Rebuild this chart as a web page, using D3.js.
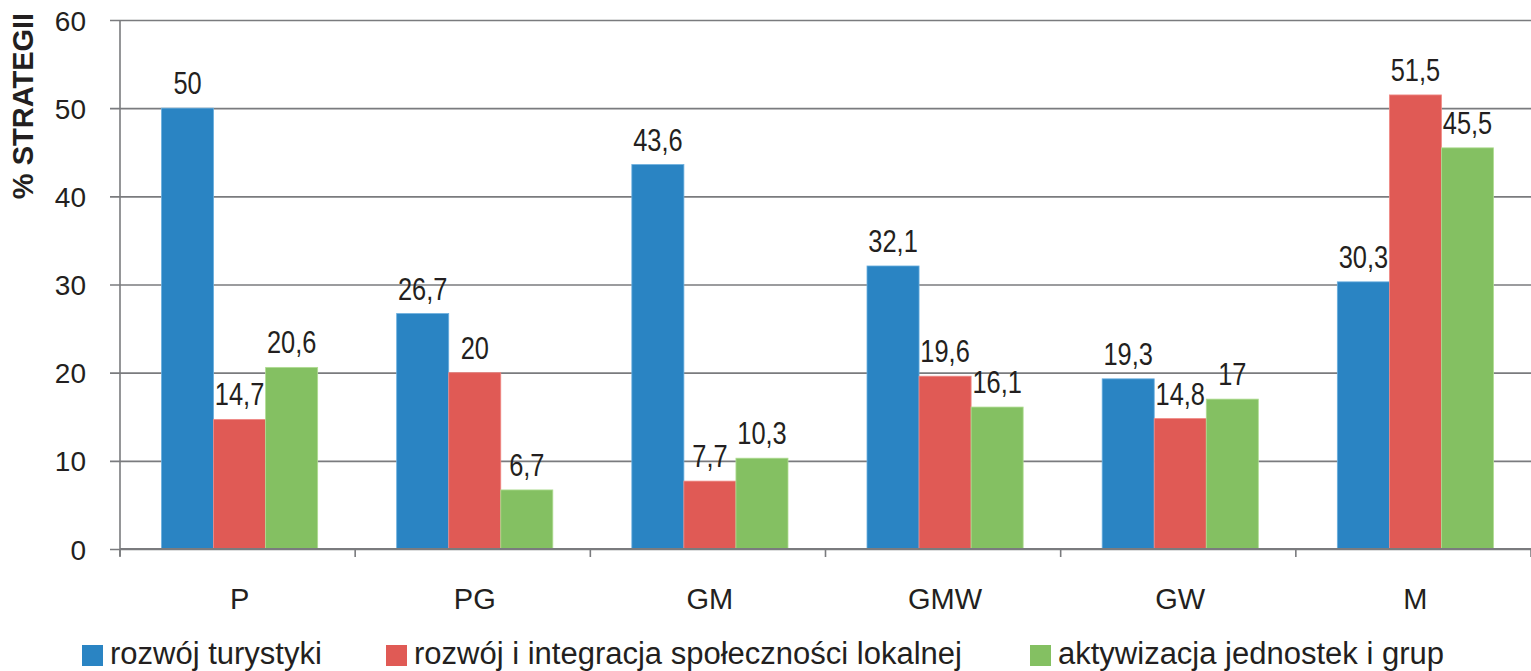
<!DOCTYPE html>
<html>
<head>
<meta charset="utf-8">
<script src="https://cdn.jsdelivr.net/npm/d3@7"></script>
<style>
  html, body { margin: 0; padding: 0; background: white; }
  #container { width: 1531px; height: 671px; }
</style>
</head>
<body>
<div id="container"></div>
<script>
// data
let categories = ["P", "PG", "GM", "GMW", "GW", "M"]
let seriesNames = ["rozwój turystyki", "rozwój i integracja społeczności lokalnej", "aktywizacja jednostek i grup"]
let tourism = [50, 26.7, 43.6, 32.1, 19.3, 30.3]
let community = [14.7, 20, 7.7, 19.6, 14.8, 51.5]
let activation = [20.6, 6.7, 10.3, 16.1, 17, 45.5]
let yTicks = [0, 10, 20, 30, 40, 50, 60]
let yTitle = "% STRATEGII"

let colors = ["#2a84c3", "#e05a55", "#84c062"]
let edgeColors = ["#6aaede", "#f08a86", "#b0dc92"]
let textColor = "#231f20"
let gridColor = "#7a7b7e"

let width = 1531, height = 671
let plotLeft = 120, plotRight = 1531, plotTop = 20, plotBottom = 549

let viz = d3.select("#container").append("svg")
    .attr("width", width)
    .attr("height", height)
    .style("background-color", "white")

let x0 = d3.scaleBand()
    .domain(categories)
    .range([plotLeft + 2, plotRight + 2])
    .paddingInner(0.336)
    .paddingOuter(0.168)

let x1 = d3.scaleBand()
    .domain([0, 1, 2])
    .range([0, x0.bandwidth()])

let y = d3.scaleLinear()
    .domain([0, 60])
    .range([plotBottom, plotTop])

// gridlines + y axis
let yAxis = viz.append("g")
    .attr("transform", "translate(" + plotLeft + ",0)")
    .call(d3.axisLeft(y).tickValues(yTicks).tickSize(10).tickSizeOuter(0).tickFormat(d => d))
yAxis.select(".domain").remove()
yAxis.selectAll(".tick line")
    .attr("x2", plotRight - plotLeft)
    .attr("x1", -10)
    .attr("stroke", gridColor)
    .attr("stroke-width", 1.6)
yAxis.selectAll(".tick text")
    .attr("x", -34)
    .attr("dy", "0.36em")
    .attr("fill", textColor)
    .style("font-family", "'Liberation Sans', Arial, sans-serif")
    .style("font-size", "28px")

viz.append("line")
    .attr("x1", plotLeft).attr("x2", plotLeft)
    .attr("y1", plotTop).attr("y2", plotBottom + 7)
    .attr("stroke", gridColor)
    .attr("stroke-width", 1.6)

// bars
let seriesData = [tourism, community, activation]
let rows = []
categories.forEach(function(c, i){
    seriesData.forEach(function(s, j){
        rows.push({cat: c, s: j, v: s[i]})
    })
})

let bars = viz.append("g").selectAll("rect").data(rows).enter()
bars.append("rect")
    .attr("x", d => x0(d.cat) + x1(d.s))
    .attr("y", d => y(d.v))
    .attr("width", x1.bandwidth())
    .attr("height", d => y(0) - y(d.v))
    .attr("fill", d => colors[d.s])
    .attr("stroke", d => edgeColors[d.s])
    .attr("stroke-width", 0.8)

// value labels (narrow look: squeeze a regular sans)
viz.append("g").selectAll("text").data(rows).enter()
    .append("text")
    .attr("transform", d => "translate(" + (x0(d.cat) + x1(d.s) + x1.bandwidth() / 2) + "," + (y(d.v) - 14) + ") scale(0.82,1)")
    .attr("text-anchor", "middle")
    .attr("fill", textColor)
    .style("font-family", "'Liberation Sans', Arial, sans-serif")
    .style("font-size", "31px")
    .text(d => String(d.v).replace(".", ","))

// x axis
let xAxis = viz.append("g")
    .attr("transform", "translate(0," + plotBottom + ")")
xAxis.append("line")
    .attr("x1", plotLeft).attr("x2", plotRight)
    .attr("stroke", gridColor)
    .attr("stroke-width", 1.8)
let step = (plotRight - plotLeft) / categories.length
d3.range(categories.length + 1).forEach(function(i){
    xAxis.append("line")
        .attr("x1", plotLeft + i * step).attr("x2", plotLeft + i * step)
        .attr("y1", 0).attr("y2", 8)
        .attr("stroke", gridColor)
        .attr("stroke-width", 1.6)
})
xAxis.selectAll("text.cat").data(categories).enter()
    .append("text")
    .attr("class", "cat")
    .attr("x", d => x0(d) + x0.bandwidth() / 2)
    .attr("y", 60)
    .attr("text-anchor", "middle")
    .attr("fill", textColor)
    .style("font-family", "'Liberation Sans', Arial, sans-serif")
    .style("font-size", "29px")
    .text(d => d)

// y title
viz.append("text")
    .attr("transform", "translate(33,106) rotate(-90)")
    .attr("text-anchor", "middle")
    .attr("fill", textColor)
    .style("font-family", "'Liberation Sans', Arial, sans-serif")
    .style("font-weight", "bold")
    .style("font-size", "29px")
    .text(yTitle)

// legend
let legendX = [82, 386, 1030]
let legend = viz.append("g").selectAll("g").data(seriesNames).enter()
    .append("g")
    .attr("transform", (d, i) => "translate(" + legendX[i] + ",645)")
legend.append("rect")
    .attr("width", 21)
    .attr("height", 21)
    .attr("fill", (d, i) => colors[i])
legend.append("text")
    .attr("x", 28)
    .attr("y", 19)
    .attr("fill", textColor)
    .style("font-family", "'Liberation Sans', Arial, sans-serif")
    .style("font-size", "31px")
    .text(d => d)
</script>
</body>
</html>
